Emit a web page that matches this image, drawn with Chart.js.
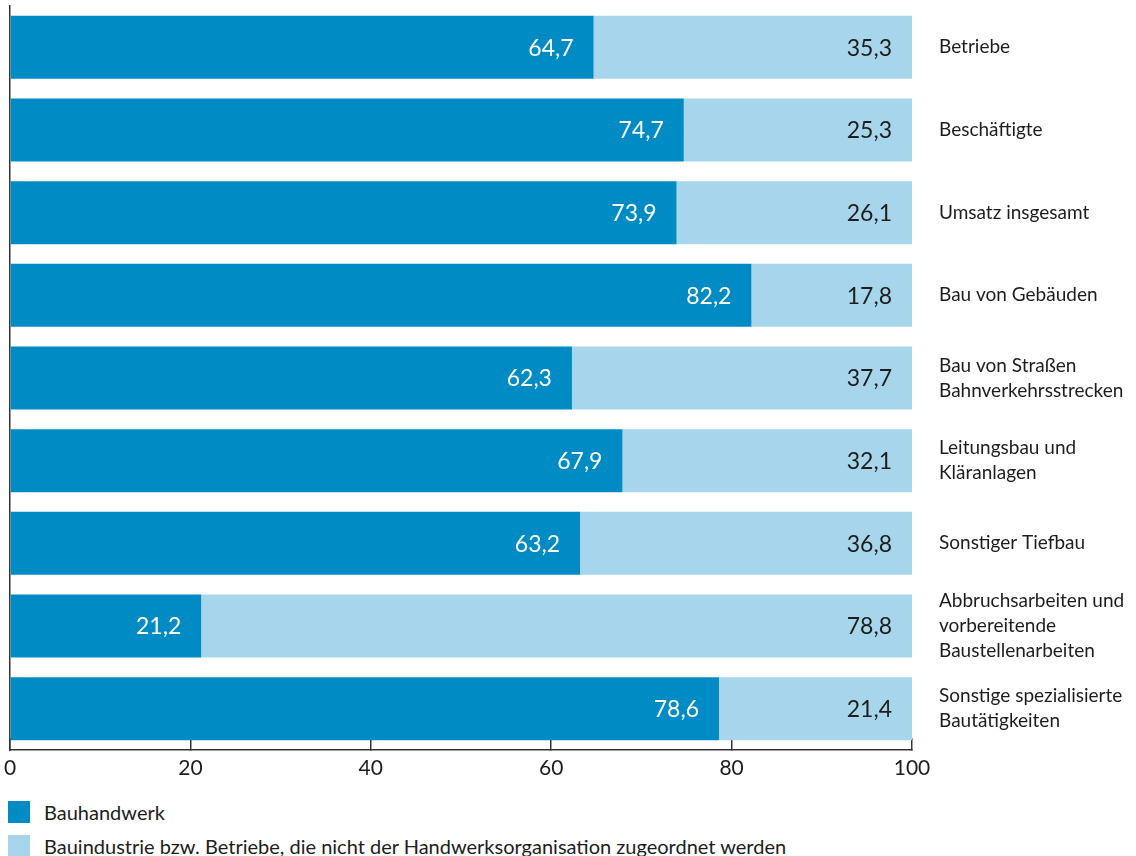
<!DOCTYPE html>
<html lang="de">
<head>
<meta charset="utf-8">
<title>Bauhandwerk und Bauindustrie</title>
<script src="https://cdn.jsdelivr.net/npm/chart.js@4/dist/chart.umd.min.js"></script>
<style>
  body { margin: 0; background: #fff; font-family: Lato, "Noto Sans", sans-serif; color: #1d1d1b; }
  #wrap { position: relative; width: 1136px; height: 856px; }
  #chartBox { position: absolute; left: 0; top: 0; width: 1136px; height: 790px; }
  #legende { position: absolute; left: 8px; top: 800px; font-size: 20px; }
  .eintrag { display: flex; align-items: center; height: 23px; margin-bottom: 11px; }
  .kasten { width: 22px; height: 22px; margin-right: 14px; }
</style>
</head>
<body>
<div id="wrap">
  <div id="chartBox"><canvas id="chartAnteile"></canvas></div>
  <div id="legende"></div>
</div>
<script>
// Kategorien (rechts beschriftet), Anteile in Prozent
var kategorien = [
    'Betriebe',
    'Beschäftigte',
    'Umsatz insgesamt',
    'Bau von Gebäuden',
    ['Bau von Straßen', 'Bahnverkehrsstrecken'],
    ['Leitungsbau und', 'Kläranlagen'],
    'Sonstiger Tiefbau',
    ['Abbruchsarbeiten und', 'vorbereitende', 'Baustellenarbeiten'],
    ['Sonstige spezialisierte', 'Bautätigkeiten']
];
var anteilHandwerk = [64.7, 74.7, 73.9, 82.2, 62.3, 67.9, 63.2, 21.2, 78.6];
var anteilIndustrie = [35.3, 25.3, 26.1, 17.8, 37.7, 32.1, 36.8, 78.8, 21.4];
var xTicks = [0, 20, 40, 60, 80, 100];
var serienNamen = ['Bauhandwerk', 'Bauindustrie bzw. Betriebe, die nicht der Handwerksorganisation zugeordnet werden'];

var farbeDunkel = '#008bc5';
var farbeHell = '#a7d6ec';
var schrift = 'Lato';

function formatZahl(v) {
    return v.toFixed(1).replace('.', ',');
}

// Wertbeschriftung jeweils rechtsbuendig am Ende des Segments
var wertLabels = {
    id: 'wertLabels',
    afterDatasetsDraw: function (chart) {
        var ctx = chart.ctx;
        ctx.save();
        ctx.font = '23px ' + schrift;
        ctx.textAlign = 'right';
        ctx.textBaseline = 'middle';
        chart.data.datasets.forEach(function (ds, di) {
            var meta = chart.getDatasetMeta(di);
            meta.data.forEach(function (bar, i) {
                ctx.fillStyle = di === 0 ? '#ffffff' : '#1d1d1b';
                ctx.fillText(formatZahl(ds.data[i]), bar.x - 20, bar.y + 1);
            });
        });
        ctx.restore();
    }
};

// Randabstaende der Achsen fuer halbe Beschriftungen entfernen
function ohnePadding(scale) {
    scale.paddingTop = 0;
    scale.paddingBottom = 0;
    scale.paddingLeft = 0;
    scale.paddingRight = 0;
}

var ctx1 = document.getElementById('chartAnteile').getContext('2d');
var chartAnteile = new Chart(ctx1, {
    type: 'bar',
    data: {
        labels: kategorien,
        datasets: [{
            label: serienNamen[0],
            data: anteilHandwerk,
            backgroundColor: farbeDunkel,
            yAxisID: 'y'
        }, {
            label: serienNamen[1],
            data: anteilIndustrie,
            backgroundColor: farbeHell,
            yAxisID: 'y'
        }]
    },
    options: {
        indexAxis: 'y',
        responsive: true,
        maintainAspectRatio: false,
        animation: false,
        datasets: {
            bar: { barPercentage: 0.762, categoryPercentage: 1.0 }
        },
        layout: { padding: { left: 10, top: 6, right: 0, bottom: 0 } },
        plugins: {
            legend: { display: false },
            tooltip: { enabled: false }
        },
        scales: {
            x: {
                stacked: true,
                min: 0,
                max: 100,
                afterBuildTicks: function (scale) {
                    scale.ticks = xTicks.map(function (v) { return { value: v }; });
                },
                afterFit: function (scale) {
                    scale.height = 40;
                    ohnePadding(scale);
                },
                grid: {
                    display: true,
                    drawOnChartArea: false,
                    drawTicks: true,
                    tickLength: -12,
                    color: '#333333',
                    lineWidth: 1.5
                },
                border: { display: true, color: '#333333', width: 1.5 },
                ticks: {
                    padding: 18,
                    color: '#1d1d1b',
                    font: { family: schrift, size: 21 },
                    maxRotation: 0
                }
            },
            y: {
                stacked: true,
                position: 'left',
                grid: { display: false, drawTicks: false },
                border: { display: true, color: '#333333', width: 1.5 },
                ticks: { display: false },
                afterFit: function (scale) {
                    scale.width = 0;
                    ohnePadding(scale);
                }
            },
            y2: {
                type: 'category',
                position: 'right',
                labels: kategorien,
                grid: { display: false, drawTicks: false },
                border: { display: false },
                ticks: {
                    padding: 27,
                    color: '#1d1d1b',
                    font: { family: schrift, size: 19, lineHeight: 1.32 }
                },
                afterFit: function (scale) {
                    scale.width = 224;
                    ohnePadding(scale);
                }
            }
        }
    },
    plugins: [wertLabels]
});

// Legende unterhalb, ein Eintrag je Zeile
var legende = document.getElementById('legende');
chartAnteile.data.datasets.forEach(function (ds) {
    var zeile = document.createElement('div');
    zeile.className = 'eintrag';
    var kasten = document.createElement('span');
    kasten.className = 'kasten';
    kasten.style.background = ds.backgroundColor;
    var text = document.createElement('span');
    text.textContent = ds.label;
    zeile.appendChild(kasten);
    zeile.appendChild(text);
    legende.appendChild(zeile);
});
</script>
</body>
</html>
